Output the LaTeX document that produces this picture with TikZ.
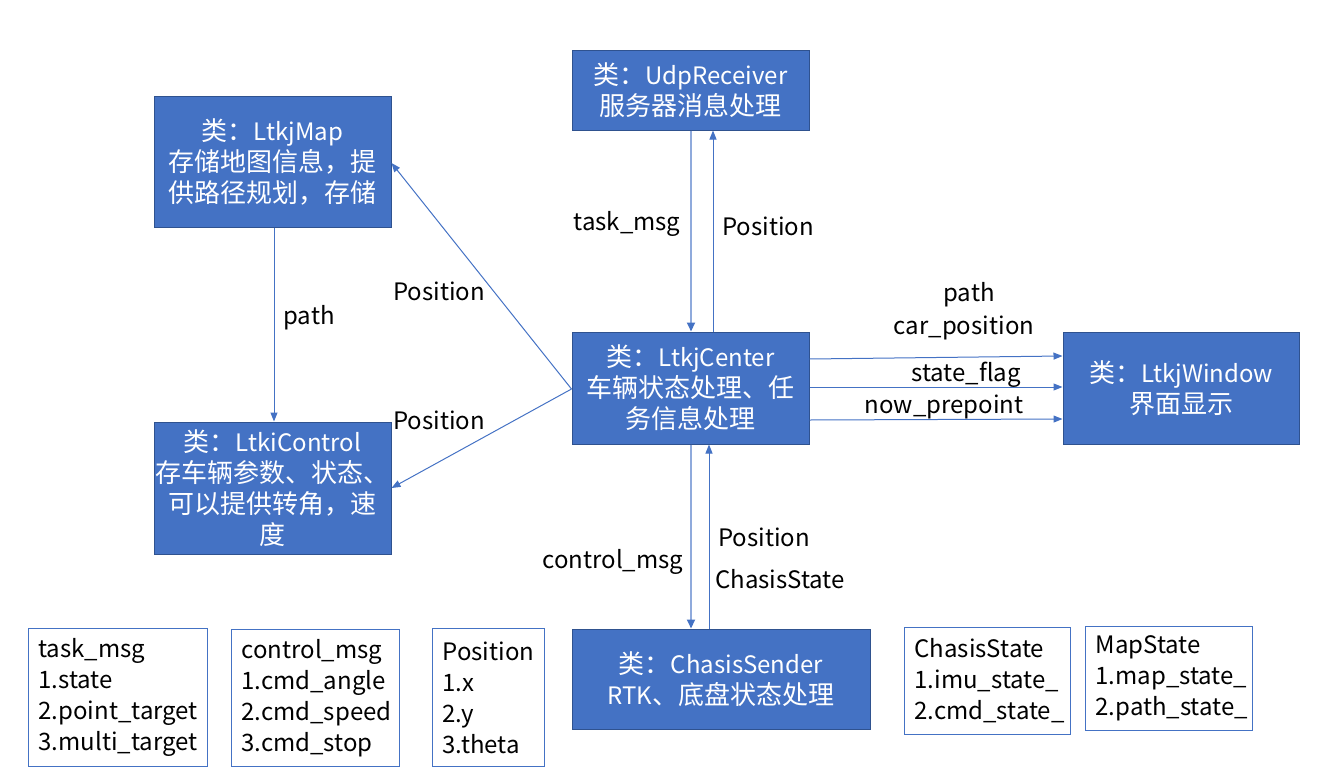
\documentclass[tikz,border=0pt]{standalone}
\usepackage{fontspec}
\setmainfont{Noto Sans CJK SC}
\usetikzlibrary{arrows.meta}
\definecolor{boxblue}{HTML}{4472C4}
\definecolor{boxedge}{HTML}{2F528F}
\definecolor{lightarrow}{HTML}{8FAADC}
\newcommand{\cj}[1]{{\fontsize{26}{31}\selectfont #1}}
\begin{document}
\begin{tikzpicture}[x=1pt,y=-1pt,
  every node/.style={font=\fontsize{24}{31}\selectfont, inner sep=0pt},
  classbox/.style={draw=boxedge, line width=1pt, fill=boxblue, text=white, align=center, minimum width=#1},
  infobox/.style={draw=boxblue, line width=1pt, fill=white, align=left, anchor=north west, text width=#1, inner xsep=10pt, inner ysep=6pt},
  conn/.style={draw=boxblue, line width=1pt, -{Triangle[length=9pt,width=7pt]}},
  downconn/.style={draw=lightarrow, line width=2pt, -{Triangle[length=9pt,width=8pt,fill=boxblue,color=boxblue]}},
  lbl/.style={text=black}
]
\useasboundingbox (0,0) rectangle (1327,771);

% class boxes
\node[classbox=237pt, minimum height=131pt] (map) at (272.5,161.5) {\cj{类：}LtkjMap\\\cj{存储地图信息，提}\\\cj{供路径规划，存储}};
\node[classbox=237pt, minimum height=80pt] (udp) at (690.5,90) {\cj{类：}UdpReceiver\\\cj{服务器消息处理}};
\node[classbox=237pt, minimum height=112pt] (center) at (690.5,388) {\cj{类：}LtkjCenter\\\cj{车辆状态处理、任}\\\cj{务信息处理}};
\node[classbox=236pt, minimum height=112pt] (window) at (1181,388) {\cj{类：}LtkjWindow\\\cj{界面显示}};
\node[classbox=237pt, minimum height=132pt] (control) at (272.5,488) {\cj{类：}LtkiControl\\\cj{存车辆参数、状态、}\\\cj{可以提供转角，速}\\\cj{度}};
\node[classbox=298pt, minimum height=100pt] (chasis) at (721,679) {\cj{类：}ChasisSender\\RTK\cj{、底盘状态处理}};

% info boxes
\node[infobox=159pt, minimum height=138pt] (taskbox) at (28,628) {task\_msg\\1.state\\2.point\_target\\3.multi\_target};
\node[infobox=148pt, minimum height=137pt] (ctrlbox) at (231,629) {control\_msg\\1.cmd\_angle\\2.cmd\_speed\\3.cmd\_stop};
\node[infobox=92pt, minimum height=138pt] (posbox) at (432,628) {Position\\1.x\\2.y\\3.theta};
\node[infobox=146pt, minimum height=107pt] (csbox) at (904,627) {ChasisState\\1.imu\_state\_\\2.cmd\_state\_};
\node[infobox=147pt, minimum height=104pt] (msbox) at (1085,626) {MapState\\1.map\_state\_\\2.path\_state\_};

% guide coordinates
\coordinate (xd) at (691,0);
\coordinate (xu1) at (713,0);
\coordinate (xu2) at (709,0);
\coordinate (yr1) at (0,359);
\coordinate (yr1b) at (0,356);
\coordinate (yr2) at (0,387);
\coordinate (yr3) at (0,420);
\coordinate (yr3b) at (0,419);
\coordinate (yl) at (0,389);
\coordinate (ymap) at (0,163);
\coordinate (yctl) at (0,488);
\coordinate (xp) at (274,0);

% connectors
\draw[downconn] (udp.south -| xd) -- (center.north -| xd);
\draw[conn] (center.north -| xu1) -- (udp.south -| xu1);
\draw[downconn] (center.south -| xd) -- (chasis.north -| xd);
\draw[conn] (chasis.north -| xu2) -- (center.south -| xu2);
\draw[conn] (map.south -| xp) -- (control.north -| xp);
\draw[conn] (center.west |- yl) -- (map.east |- ymap);
\draw[conn] (center.west |- yl) -- (control.east |- yctl);
\draw[conn] (center.east |- yr1) -- (window.west |- yr1b);
\draw[conn] (center.east |- yr2) -- (window.west |- yr2);
\draw[conn] (center.east |- yr3) -- (window.west |- yr3b);

% labels
\node[lbl] (l1) at (627,224) {task\_msg};
\node[lbl] (l2) at (768,226) {Position};
\node[lbl] (l3) at (309,318) {path};
\node[lbl] (l4) at (439,291) {Position};
\node[lbl] (l5) at (439,420) {Position};
\node[lbl] (l6) at (613,562) {control\_msg};
\node[lbl] (l7) at (764,537) {Position};
\node[lbl] (l8) at (780,579) {ChasisState};
\node[lbl] (l9) at (969,295) {path};
\node[lbl] (l10) at (964,328) {car\_position};
\node[lbl] (l11) at (966,375) {state\_flag};
\node[lbl] (l12) at (944,407) {now\_prepoint};
\end{tikzpicture}
\end{document}
